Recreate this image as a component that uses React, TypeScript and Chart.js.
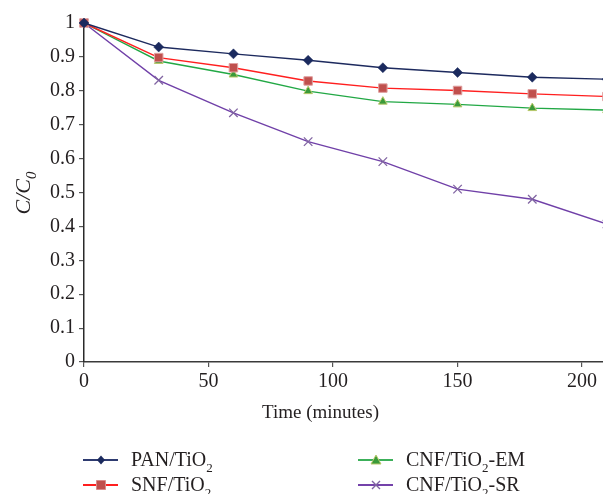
import React, { useEffect, useRef } from "react";
import { Chart, registerables } from "chart.js";

Chart.register(...registerables);

const times = [0, 30, 60, 90, 120, 150, 180, 210];
const panTiO2 = [1, 0.929, 0.909, 0.89, 0.868, 0.854, 0.84, 0.834];
const snfTiO2 = [1, 0.898, 0.868, 0.829, 0.808, 0.801, 0.791, 0.783];
const cnfEM = [1, 0.888, 0.848, 0.799, 0.768, 0.76, 0.749, 0.743];
const cnfSR = [1, 0.831, 0.735, 0.65, 0.591, 0.51, 0.48, 0.407];
const xTicks = [0, 50, 100, 150, 200];

const FONT = "'Liberation Serif', 'DejaVu Serif', serif";

type Seg = { t: string; sub?: boolean };
const legendItems: {
  label: Seg[];
  line: string;
  fill: string;
  stroke: string;
  shape: string;
  col: number;
  row: number;
}[] = [
  { label: [{ t: "PAN/TiO" }, { t: "2", sub: true }], line: "#2e3b70", fill: "#1b2a5e", stroke: "#1b2a5e", shape: "diamond", col: 0, row: 0 },
  { label: [{ t: "SNF/TiO" }, { t: "2", sub: true }], line: "#ff1f1f", fill: "#c0504d", stroke: "#d98c8a", shape: "square", col: 0, row: 1 },
  { label: [{ t: "CNF/TiO" }, { t: "2", sub: true }, { t: "-EM" }], line: "#3cb05a", fill: "#3a9a3a", stroke: "#b8c86a", shape: "triangle", col: 1, row: 0 },
  { label: [{ t: "CNF/TiO" }, { t: "2", sub: true }, { t: "-SR" }], line: "#7442aa", fill: "#8064a2", stroke: "#8064a2", shape: "cross", col: 1, row: 1 },
];

function drawMarker(ctx: CanvasRenderingContext2D, shape: string, x: number, y: number, fill: string, stroke: string) {
  ctx.save();
  ctx.fillStyle = fill;
  ctx.strokeStyle = stroke;
  ctx.lineWidth = 1;
  ctx.beginPath();
  if (shape === "diamond") {
    ctx.moveTo(x, y - 4.5);
    ctx.lineTo(x + 4, y);
    ctx.lineTo(x, y + 4.5);
    ctx.lineTo(x - 4, y);
    ctx.closePath();
    ctx.fill();
  } else if (shape === "square") {
    ctx.rect(x - 4.5, y - 4.5, 9, 9);
    ctx.fill();
    ctx.stroke();
  } else if (shape === "triangle") {
    ctx.moveTo(x, y - 5);
    ctx.lineTo(x + 5, y + 4);
    ctx.lineTo(x - 5, y + 4);
    ctx.closePath();
    ctx.fill();
    ctx.stroke();
  } else {
    ctx.lineWidth = 1.4;
    ctx.moveTo(x - 4, y - 4);
    ctx.lineTo(x + 4, y + 4);
    ctx.moveTo(x + 4, y - 4);
    ctx.lineTo(x - 4, y + 4);
    ctx.stroke();
  }
  ctx.restore();
}

function drawSegs(ctx: CanvasRenderingContext2D, segs: Seg[], x: number, y: number, size: number, subSize: number, italic: boolean) {
  let cx = x;
  for (const s of segs) {
    ctx.font = `${italic ? "italic " : ""}${s.sub ? subSize : size}px ${FONT}`;
    ctx.fillText(s.t, cx, s.sub ? y + size * 0.28 : y);
    cx += ctx.measureText(s.t).width;
  }
}

const annotPlugin = {
  id: "annot",
  afterDraw(chart: any) {
    const ctx: CanvasRenderingContext2D = chart.ctx;
    ctx.save();
    ctx.fillStyle = "#231f20";
    ctx.textBaseline = "alphabetic";
    ctx.textAlign = "left";
    // x title
    ctx.font = `19px ${FONT}`;
    const xt = "Time (minutes)";
    const w = ctx.measureText(xt).width;
    ctx.fillText(xt, 320.5 - w / 2, 418);
    // y title
    ctx.save();
    ctx.translate(30, 193);
    ctx.rotate(-Math.PI / 2);
    const ySegs: Seg[] = [{ t: "C/C" }, { t: "0", sub: true }];
    ctx.font = `italic 22px ${FONT}`;
    let tw = ctx.measureText("C/C").width;
    ctx.font = `italic 15px ${FONT}`;
    tw += ctx.measureText("0").width;
    drawSegs(ctx, ySegs, -tw / 2, 0, 22, 15, true);
    ctx.restore();
    // legend
    const cols = [{ l1: 83, l2: 118, m: 101, tx: 131 }, { l1: 358, l2: 393, m: 376, tx: 406 }];
    const rows = [460, 485];
    for (const it of legendItems) {
      const c = cols[it.col];
      const y = rows[it.row];
      ctx.save();
      ctx.strokeStyle = it.line;
      ctx.lineWidth = 2;
      ctx.beginPath();
      ctx.moveTo(c.l1, y);
      ctx.lineTo(c.l2, y);
      ctx.stroke();
      ctx.restore();
      drawMarker(ctx, it.shape, c.m, y, it.fill, it.stroke);
      ctx.fillStyle = "#231f20";
      drawSegs(ctx, it.label, c.tx, y + 6, 20, 13, false);
    }
    ctx.restore();
  },
};

export default function App() {
  const ref = useRef<HTMLCanvasElement | null>(null);
  useEffect(() => {
    document.body.style.margin = "0";
    document.body.style.overflow = "hidden";
    const canvas = ref.current!;
    const mk = (arr: number[]) => times.map((t, i) => ({ x: t, y: arr[i] }));
    const chart = new Chart(canvas, {
      type: "line",
      data: {
        datasets: [
          {
            label: "PAN/TiO2",
            data: mk(panTiO2),
            borderColor: "#1d2a5e",
            backgroundColor: "#1b2a5e",
            pointBackgroundColor: "#1b2a5e",
            pointBorderColor: "#1b2a5e",
            pointBorderWidth: 0.5,
            pointStyle: "rectRot",
            pointRadius: 5,
            borderWidth: 1.4,
            clip: false as any,
          },
          {
            label: "SNF/TiO2",
            data: mk(snfTiO2),
            borderColor: "#ff1f1f",
            backgroundColor: "#c0504d",
            pointBackgroundColor: "#c0504d",
            pointBorderColor: "#e0a0a0",
            pointBorderWidth: 1,
            pointStyle: "rect",
            pointRadius: 6,
            borderWidth: 1.4,
            clip: false as any,
          },
          {
            label: "CNF/TiO2-EM",
            data: mk(cnfEM),
            borderColor: "#22a845",
            backgroundColor: "#3a9a3a",
            pointBackgroundColor: "#3a9a3a",
            pointBorderColor: "#b8c86a",
            pointBorderWidth: 1,
            pointStyle: "triangle",
            pointRadius: 5,
            borderWidth: 1.4,
            clip: false as any,
          },
          {
            label: "CNF/TiO2-SR",
            data: mk(cnfSR),
            borderColor: "#7040a8",
            backgroundColor: "#8064a2",
            pointBackgroundColor: "#8064a2",
            pointBorderColor: "#8064a2",
            pointBorderWidth: 1.3,
            pointStyle: "crossRot",
            pointRadius: 6,
            borderWidth: 1.4,
            clip: false as any,
          },
        ],
      },
      options: {
        animation: false,
        responsive: false,
        layout: { autoPadding: false, padding: { top: 23, right: 0, left: 0, bottom: 0 } },
        plugins: { legend: { display: false }, tooltip: { enabled: false } },
        elements: { line: { tension: 0 } },
        scales: {
          x: {
            type: "linear",
            min: 0,
            max: 208.4,
            afterBuildTicks: (s: any) => {
              s.ticks = xTicks.map((v) => ({ value: v }));
            },
            afterFit: (s: any) => {
              s.height = 132;
            },
            ticks: {
              color: "#231f20",
              font: { family: FONT, size: 20 },
              padding: 3,
              maxRotation: 0,
            },
            grid: { drawOnChartArea: false, drawTicks: true, tickLength: 5, color: "#555", lineWidth: 1.2 },
            border: { color: "#3a3a3a", width: 1.5 },
          },
          y: {
            min: 0,
            max: 1,
            afterFit: (s: any) => {
              s.width = 84;
            },
            ticks: {
              stepSize: 0.1,
              color: "#231f20",
              font: { family: FONT, size: 20 },
              padding: 4,
              callback: (v: any) => String(Number(Number(v).toFixed(1))),
            },
            grid: { drawOnChartArea: false, drawTicks: true, tickLength: 5, color: "#555", lineWidth: 1.2 },
            border: { color: "#2a2a2a", width: 1.5 },
          },
        },
      },
      plugins: [annotPlugin],
    } as any);
    return () => chart.destroy();
  }, []);
  return (
    <div style={{ width: 603, height: 494, position: "relative" }}>
      <canvas ref={ref} width={603} height={494} style={{ display: "block" }} />
    </div>
  );
}
